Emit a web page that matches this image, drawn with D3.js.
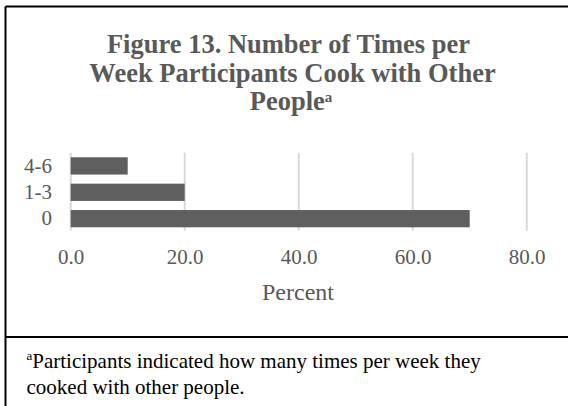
<!DOCTYPE html>
<html>
<head>
<meta charset="utf-8">
<script src="https://cdn.jsdelivr.net/npm/d3@7"></script>
<style>
  body { margin: 0; background: #fff; }
  svg { display: block; font-family: "Liberation Serif", "Times New Roman", serif; }
</style>
</head>
<body>
<div id="chart"></div>
<script>
// data
var categories = ["4-6", "1-3", "0"];
var percents = [10, 20, 70];
var xTicks = [0, 20, 40, 60, 80];

var W = 568, H = 406;

var svg = d3.select("#chart")
  .append("svg")
    .attr("width", W)
    .attr("height", H);

svg.append("rect")
  .attr("width", W).attr("height", H)
  .attr("fill", "#fff");

// frame lines
svg.append("line")
  .attr("x1", 5.5).attr("x2", W + 5).attr("y1", 6.5).attr("y2", 6.5)
  .attr("stroke", "#000").attr("stroke-width", 2);
svg.append("line")
  .attr("x1", 5.5).attr("x2", 5.5).attr("y1", 6.5).attr("y2", H + 5)
  .attr("stroke", "#000").attr("stroke-width", 2);
svg.append("line")
  .attr("x1", 5.5).attr("x2", W + 5).attr("y1", 337).attr("y2", 337)
  .attr("stroke", "#000").attr("stroke-width", 2);

// title
var title = svg.append("text")
  .attr("text-anchor", "middle")
  .attr("fill", "#595959")
  .attr("font-weight", "bold")
  .attr("font-size", 26.5);
title.append("tspan").attr("x", 288.5).attr("y", 53).text("Figure 13. Number of Times per");
title.append("tspan").attr("x", 292.5).attr("y", 81.5).text("Week Participants Cook with Other");
title.append("tspan").attr("x", 291).attr("y", 109.5).text("People");
title.append("tspan").attr("font-size", 15).attr("dy", -7.5).text("a");

// scales
var x = d3.scaleLinear()
  .domain([0, 80])
  .range([70.7, 526.7]);

var y = d3.scaleBand()
  .domain(categories)
  .range([152.7, 231.9])
  .paddingInner(0.345)
  .paddingOuter(0.174);

// gridlines
svg.append("g")
  .selectAll("line")
  .data(xTicks)
  .enter()
  .append("line")
    .attr("x1", function(d) { return x(d); })
    .attr("x2", function(d) { return x(d); })
    .attr("y1", 152.7)
    .attr("y2", 230.7)
    .attr("stroke", "#d9d9d9")
    .attr("stroke-width", 2);

// bars
svg.append("g")
  .selectAll("rect")
  .data(percents)
  .enter()
  .append("rect")
    .attr("x", x(0))
    .attr("y", function(d, i) { return y(categories[i]); })
    .attr("width", function(d) { return x(d) - x(0); })
    .attr("height", y.bandwidth())
    .attr("fill", "#5f5f5f");

// x axis labels
var xAxis = svg.append("g")
  .attr("transform", "translate(0,264)")
  .call(d3.axisBottom(x).tickValues(xTicks).tickFormat(d3.format(".1f")).tickSize(0).tickPadding(0));
xAxis.select(".domain").remove();
xAxis.selectAll("text")
  .attr("dy", 0)
  .attr("font-family", "Liberation Serif")
  .attr("font-size", 21)
  .attr("fill", "#595959");

// y axis labels
var yAxis = svg.append("g")
  .attr("transform", "translate(52,0)")
  .call(d3.axisLeft(y).tickSize(0).tickPadding(0));
yAxis.select(".domain").remove();
yAxis.selectAll("text")
  .attr("font-family", "Liberation Serif")
  .attr("font-size", 21)
  .attr("fill", "#595959");

// axis title
svg.append("text")
  .attr("x", 298)
  .attr("y", 299.5)
  .attr("text-anchor", "middle")
  .attr("font-size", 24)
  .attr("fill", "#595959")
  .text("Percent");

// footnote
var note = svg.append("text")
  .attr("font-size", 21)
  .attr("fill", "#000");
var n1 = note.append("tspan").attr("x", 26.5).attr("y", 367.5);
n1.append("tspan").attr("font-size", 13).attr("dy", -7.5).text("a");
n1.append("tspan").attr("dy", 7.5).text("Participants indicated how many times per week they");
note.append("tspan").attr("x", 26.5).attr("y", 393.5).text("cooked with other people.");
</script>
</body>
</html>
